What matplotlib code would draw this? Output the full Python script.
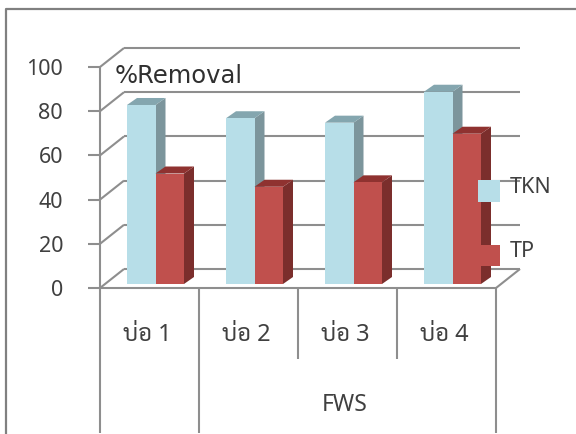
import matplotlib
matplotlib.use("Agg")
import matplotlib.pyplot as plt
from matplotlib.lines import Line2D
from matplotlib.patches import Polygon, Rectangle

plt.rcParams['font.family'] = ['Noto Sans', 'Sarabun', 'Noto Sans Thai', 'DejaVu Sans']

# Data
categories = ["บ่อ 1", "บ่อ 2", "บ่อ 3", "บ่อ 4"]
group_label = "FWS"
tkn = [81, 75, 73, 87]
tp = [50, 44, 46, 68]
y_ticks = [0, 20, 40, 60, 80, 100]

W, H = 576, 434
PX = 1 / 99.0    # one pixel in x data units
PY = 1 / 2.21    # one pixel in y data units
grid_col = "#8e8e8e"
text_col = "#404040"

fig = plt.figure(figsize=(W / 100, H / 100), dpi=100)
ax = fig.add_axes([100 / W, (H - 288) / H, 396 / W, 221 / H])
ax.set_xlim(0, 4)
ax.set_ylim(0, 100)
ax.axis("off")


def line(xs, ys, z=1):
    ax.plot(xs, ys, color=grid_col, lw=1.5, clip_on=False, zorder=z, solid_capstyle="butt")


# walls of the 3d box
back_dx, back_dy = 24 * PX, 19 * PY
for t in y_ticks:
    line([-12 * PX, 0], [t, t])
    line([0, back_dx], [t, t + back_dy])
    line([back_dx, 4 + back_dx], [t + back_dy, t + back_dy])
line([0, 4], [0, 0], 6)
line([4, 4 + back_dx], [0, back_dy])
line([0, 0], [100, -65.6], 6)

# category separators below the axis
for x, end in zip([1, 2, 3, 4], [-65.6, -32, -32, -65.6]):
    line([x, x], [0, end])

# bars
bar_w = 28.5 * PX
start = 27 * PX
base = 4 * PY
dep_x, dep_y = 10 * PX, 7 * PY


def bar3d(x, h, front, side, top, z):
    y1 = base + h
    ax.add_patch(Polygon([(x + bar_w, base), (x + bar_w + dep_x, base + dep_y),
                          (x + bar_w + dep_x, y1 + dep_y), (x + bar_w, y1)],
                         fc=side, ec="none", zorder=z, clip_on=False))
    ax.add_patch(Polygon([(x, y1), (x + dep_x, y1 + dep_y),
                          (x + bar_w + dep_x, y1 + dep_y), (x + bar_w, y1)],
                         fc=top, ec="none", zorder=z, clip_on=False))
    ax.bar(x, h, width=bar_w, bottom=base, align="edge", color=front, zorder=z, clip_on=False)


for i in range(len(categories)):
    bar3d(i + start, tkn[i], "#b7deE8", "#7c959c", "#84a6af", 3)
    bar3d(i + start + bar_w, tp[i], "#c0504d", "#7b2e2c", "#8f3230", 4)

# tick labels
for t in y_ticks:
    ax.text(-37 * PX, t, str(t), ha="right", va="center_baseline", fontsize=15.5, color=text_col)

# category labels
for i, c in enumerate(categories):
    ax.text(i + 0.475, -47 * PY, c, ha="center", va="center", fontsize=17, color=text_col)
ax.text(2.475, -117 * PY, group_label, ha="center", va="center", fontsize=16.5, color=text_col)

ax.text(15 * PX, 96, "%Removal", ha="left", va="center", fontsize=17.5, color="#303030",
        zorder=7, family="DejaVu Sans")

# legend
ax.add_patch(Rectangle((3.818, 38.9), 22 * PX, 22 * PY, fc="#b7dee8", ec="none", zorder=8, clip_on=False))
ax.add_patch(Rectangle((3.818, 9.9), 22 * PX, 21 * PY, fc="#c0504d", ec="none", zorder=8, clip_on=False))
ax.text(4.14, 45.7, "TKN", ha="left", va="center", fontsize=15.5, color=text_col, zorder=8)
ax.text(4.14, 16.7, "TP", ha="left", va="center", fontsize=15.5, color=text_col, zorder=8)

# picture frame
fig.add_artist(Line2D([6 / W, 6 / W, 1], [0, 1 - 9 / H, 1 - 9 / H], color="#808080", lw=1.6))

fig.savefig("out.png", dpi=100)
